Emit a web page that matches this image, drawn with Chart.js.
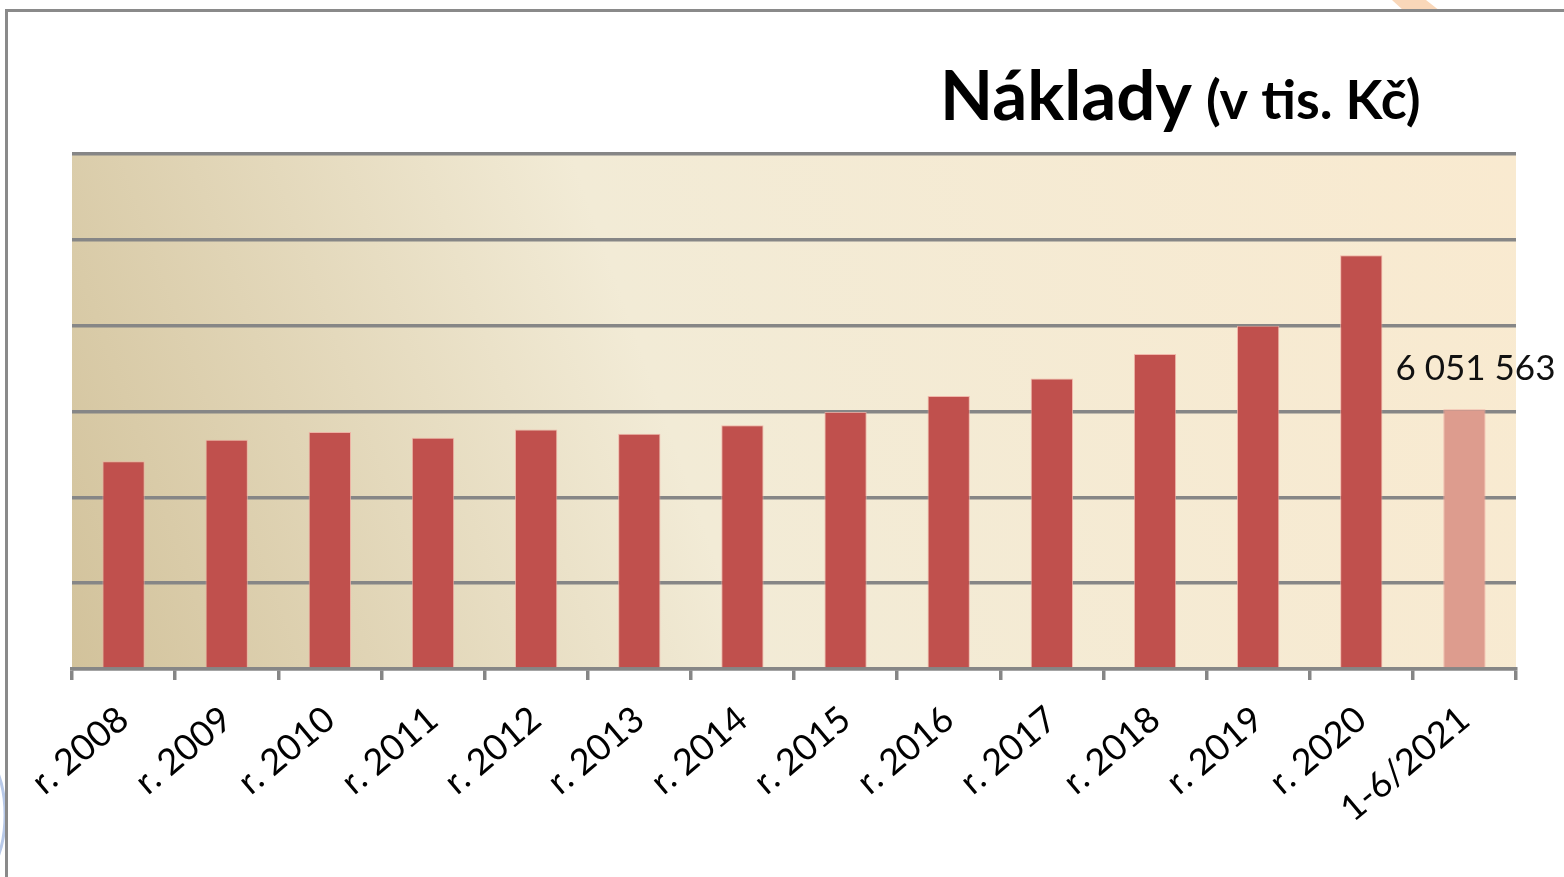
<!DOCTYPE html>
<html>
<head>
<meta charset="utf-8">
<script src="https://cdn.jsdelivr.net/npm/chart.js@4"></script>
<style>
  html, body { margin: 0; padding: 0; background: #fff; }
  #wrap { position: relative; width: 1564px; height: 877px; }
</style>
</head>
<body>
<div id="wrap"><canvas id="chart" width="1564" height="877"></canvas></div>
<script>
const categories = ['r. 2008', 'r. 2009', 'r. 2010', 'r. 2011', 'r. 2012', 'r. 2013', 'r. 2014',
                    'r. 2015', 'r. 2016', 'r. 2017', 'r. 2018', 'r. 2019', 'r. 2020', '1-6/2021'];
const costs = [4840000, 5340000, 5520000, 5390000, 5580000, 5480000, 5680000,
               5990000, 6360000, 6770000, 7340000, 8000000, 9640000, 6051563];
const yTicks = [0, 2000000, 4000000, 6000000, 8000000, 10000000, 12000000];
const labelText = '6 051 563';

const barColors = costs.map((v, i) => i === costs.length - 1 ? '#dd9c8e' : '#c0504d');

// background gradient + frame + decorations
const backdrop = {
    id: 'backdrop',
    beforeDraw(chart) {
        const ctx = chart.ctx;
        const a = chart.chartArea;
        ctx.save();
        // little decoration shapes poking in from the slide
        ctx.fillStyle = '#f9d7b9';
        ctx.beginPath();
        ctx.moveTo(1392, 0); ctx.lineTo(1426, 0); ctx.lineTo(1440, 11); ctx.lineTo(1404, 11);
        ctx.closePath(); ctx.fill();
        ctx.strokeStyle = '#b8c9e8';
        ctx.lineWidth = 3;
        ctx.beginPath();
        ctx.ellipse(-20, 815, 25, 60, 0, -Math.PI / 2, Math.PI / 2);
        ctx.stroke();
        // frame
        ctx.fillStyle = '#ffffff';
        ctx.fillRect(7, 12, 1564, 877);
        ctx.strokeStyle = '#8a8a8a';
        ctx.lineWidth = 3;
        ctx.beginPath();
        ctx.moveTo(6.5, 877); ctx.lineTo(6.5, 10.5); ctx.lineTo(1564, 10.5);
        ctx.stroke();
        // plot background
        const g = ctx.createLinearGradient(a.left, a.bottom, a.right, a.top);
        g.addColorStop(0, '#d2c29b');
        g.addColorStop(0.42, '#f2ebd6');
        g.addColorStop(1, '#f9ead0');
        ctx.fillStyle = g;
        ctx.fillRect(a.left, a.top, a.right - a.left, a.bottom - a.top);
        ctx.restore();
    },
    afterDraw(chart) {
        const ctx = chart.ctx;
        ctx.save();
        ctx.fillStyle = '#000';
        ctx.textBaseline = 'alphabetic';
        ctx.textAlign = 'left';
        ctx.font = 'bold 69px Lato';
        ctx.fillText('Náklady', 940, 120);
        const w = ctx.measureText('Náklady').width;
        ctx.font = 'bold 54px Lato';
        ctx.fillText('(v tis. Kč)', 940 + w + 14, 119);
        // value label on last bar
        const meta = chart.getDatasetMeta(0);
        const bar = meta.data[meta.data.length - 1];
        ctx.font = '35px Lato';
        ctx.textAlign = 'center';
        ctx.fillStyle = '#111';
        ctx.fillText(labelText, bar.x + 11, bar.y - 29);
        ctx.restore();
    }
};

new Chart(document.getElementById('chart'), {
    type: 'bar',
    data: {
        labels: categories,
        datasets: [{
            data: costs,
            backgroundColor: barColors,
            borderColor: 'rgba(240,170,160,0.8)',
            borderWidth: 1,
            barPercentage: 0.41,
            categoryPercentage: 1.0
        }]
    },
    options: {
        responsive: false,
        animation: false,
        layout: { padding: { left: 72, right: 48, top: 154, bottom: 0 } },
        plugins: { legend: { display: false }, title: { display: false }, tooltip: { enabled: false } },
        scales: {
            x: {
                afterFit: (scale) => { scale.height = 877 - 669; },
                border: { display: true, color: '#868686', width: 3.5 },
                grid: { drawOnChartArea: false, color: '#868686', lineWidth: 3.5, tickLength: 11, offset: true },
                ticks: {
                    color: '#000',
                    font: { family: 'Lato', size: 36 },
                    minRotation: 40, maxRotation: 40,
                    padding: 18,
                    autoSkip: false
                }
            },
            y: {
                min: 0, max: 12000000,
                afterFit: (scale) => { scale.width = 0; },
                afterBuildTicks: (scale) => { scale.ticks = yTicks.map(v => ({ value: v })); },
                border: { display: false },
                grid: { color: '#868686', lineWidth: 3.5, drawTicks: false },
                ticks: { display: false }
            }
        }
    },
    plugins: [backdrop]
});
</script>
</body>
</html>
